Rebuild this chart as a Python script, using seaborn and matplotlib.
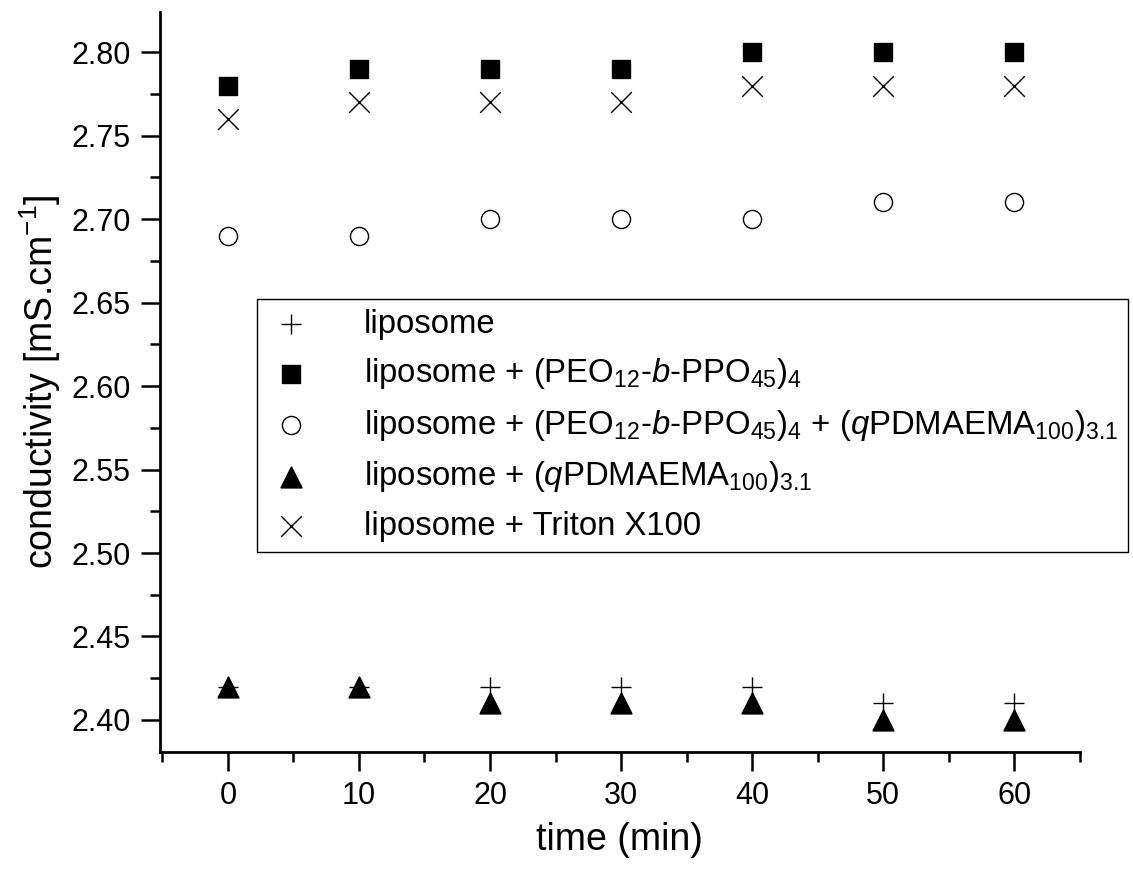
import matplotlib
matplotlib.use("Agg")
import matplotlib.pyplot as plt
from matplotlib.ticker import MultipleLocator, FormatStrFormatter
import pandas as pd
import seaborn as sns

# ==========================================
# DATA
# ==========================================

time_min = [0, 10, 20, 30, 40, 50, 60]

liposome = [2.42, 2.42, 2.42, 2.42, 2.42, 2.41, 2.41]
lipo_peo = [2.78, 2.79, 2.79, 2.79, 2.80, 2.80, 2.80]
lipo_peo_q = [2.69, 2.69, 2.70, 2.70, 2.70, 2.71, 2.71]
lipo_q = [2.42, 2.42, 2.41, 2.41, 2.41, 2.40, 2.40]
lipo_triton = [2.76, 2.77, 2.77, 2.77, 2.78, 2.78, 2.78]

labels = [
    "liposome",
    "liposome + (PEO$_{12}$-$b$-PPO$_{45}$)$_{4}$",
    "liposome + (PEO$_{12}$-$b$-PPO$_{45}$)$_{4}$ + ($q$PDMAEMA$_{100}$)$_{3.1}$",
    "liposome + ($q$PDMAEMA$_{100}$)$_{3.1}$",
    "liposome + Triton X100",
]

# ==========================================
# STYLE
# ==========================================

sns.set_style("ticks")
plt.rcParams["font.family"] = ["Liberation Sans", "DejaVu Sans"]
plt.rcParams["mathtext.fontset"] = "custom"
plt.rcParams["mathtext.rm"] = "Liberation Sans"
plt.rcParams["mathtext.it"] = "Liberation Sans:italic"
plt.rcParams["mathtext.bf"] = "Liberation Sans:bold"
plt.rcParams["text.color"] = "black"
plt.rcParams["axes.labelcolor"] = "black"
plt.rcParams["xtick.color"] = "black"
plt.rcParams["ytick.color"] = "black"

fig = plt.figure(figsize=(11.33, 8.71), dpi=100)
ax = fig.add_axes([0.141, 0.137, 0.812, 0.849])

series = [liposome, lipo_peo, lipo_peo_q, lipo_q, lipo_triton]
styles = [
    dict(marker="+", s=220, color="black", linewidths=1.0),
    dict(marker="s", s=150, color="black", edgecolor="black"),
    dict(marker="o", s=170, facecolor="white", edgecolor="black", linewidth=1.0),
    dict(marker="^", s=220, color="black", edgecolor="black"),
    dict(marker="x", s=220, color="black", linewidths=1.0),
]

for values, label, st in zip(series, labels, styles):
    df = pd.DataFrame({"time": time_min, "cond": values})
    sns.scatterplot(data=df, x="time", y="cond", ax=ax, label=label, zorder=3, **st)

# ==========================================
# AXES
# ==========================================

ax.set_xlim(-5.2, 65)
ax.set_ylim(2.381, 2.824)
ax.xaxis.set_major_locator(MultipleLocator(10))
ax.xaxis.set_minor_locator(MultipleLocator(5))
ax.yaxis.set_major_locator(MultipleLocator(0.05))
ax.yaxis.set_minor_locator(MultipleLocator(0.025))
ax.yaxis.set_major_formatter(FormatStrFormatter("%.2f"))

ax.tick_params(which="major", direction="out", length=14, width=1.8,
               labelsize=22, pad=7, color="black")
ax.tick_params(which="minor", direction="out", length=7, width=1.8, color="black")

sns.despine(ax=ax)
for side in ["left", "bottom"]:
    ax.spines[side].set_linewidth(2)
    ax.spines[side].set_color("black")

ax.set_xlabel("time (min)", fontsize=27, labelpad=8)
ax.set_ylabel("conductivity [mS.cm$^{-1}$]", fontsize=27, labelpad=6)

leg = ax.legend(
    loc="upper left",
    bbox_to_anchor=(0.1055, 0.612),
    fontsize=23.7,
    frameon=True,
    fancybox=False,
    edgecolor="black",
    framealpha=1,
    borderpad=0.3,
    labelspacing=0.5,
    handlelength=1.5,
    handletextpad=1.45,
    borderaxespad=0,
)
leg.get_frame().set_linewidth(1.0)

plt.savefig("out.png", dpi=100)
plt.close()
